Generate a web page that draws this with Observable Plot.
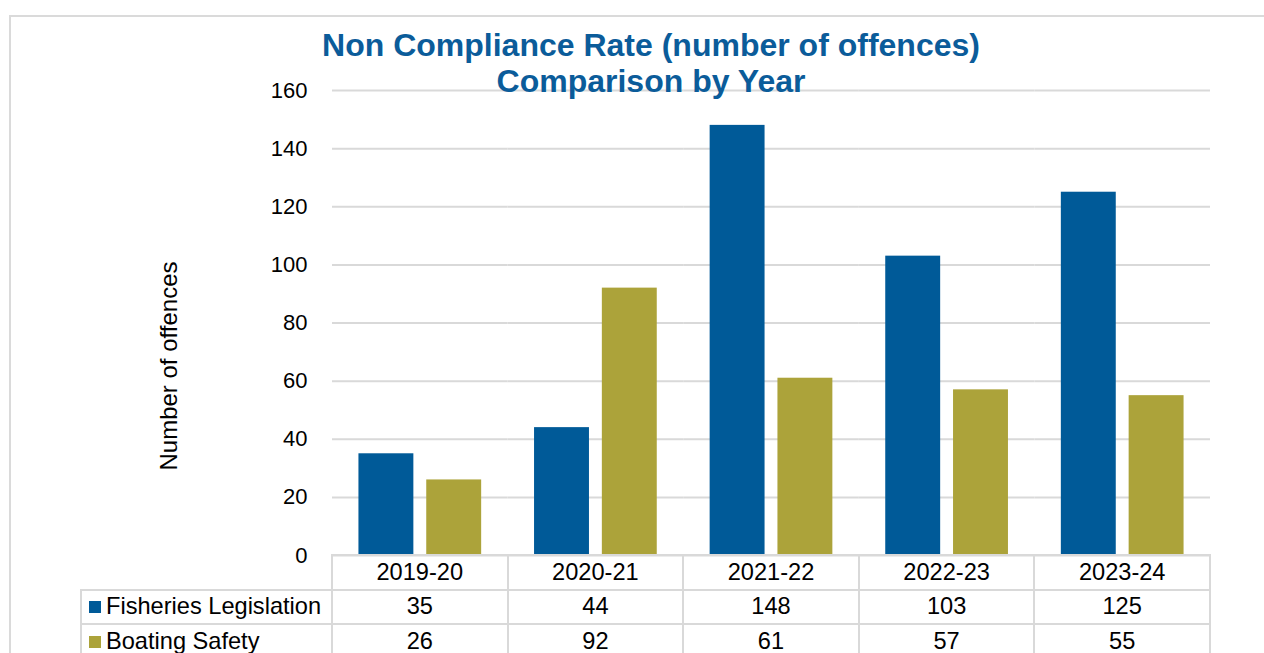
<!DOCTYPE html>
<html>
<head>
<meta charset="utf-8">
<script src="https://cdn.jsdelivr.net/npm/d3@7"></script>
<script src="https://cdn.jsdelivr.net/npm/@observablehq/plot@0.6"></script>
<style>
  html, body { margin: 0; padding: 0; background: #fff; overflow: hidden; }
  #wrap { position: relative; width: 1264px; height: 653px; overflow: hidden; font-family: "Liberation Sans", Arial, sans-serif; }
  #frame { position: absolute; left: 9px; top: 15px; width: 1400px; height: 800px; border: 2px solid #dadada; box-sizing: border-box; }
  #title { position: absolute; left: 151px; top: 27px; width: 1000px; text-align: center; font-weight: bold; font-size: 32px; line-height: 36px; color: #0b5c9a; z-index: 2; }
  #ylabel { position: absolute; left: 169px; top: 366px; transform: translate(-50%, -50%) rotate(-90deg); white-space: nowrap; font-size: 24px; line-height: 1; color: #000; }
  #chart { position: absolute; left: 0; top: 0; }
  .hl { position: absolute; height: 2px; background: #d9d9d9; }
  .vl { position: absolute; width: 2px; background: #d9d9d9; }
  .cell { position: absolute; display: flex; align-items: center; justify-content: center; font-size: 23.6px; color: #000; white-space: nowrap; }
  .cell.lab { justify-content: flex-start; }
  .sw { display: inline-block; width: 12px; height: 12px; margin-left: 8px; margin-right: 5px; }
</style>
</head>
<body>
<div id="wrap">
  <div id="frame"></div>
  <div id="chart"></div>
  <div id="title">Non Compliance Rate (number of offences)<br>Comparison by Year</div>
  <div id="ylabel">Number of offences</div>
</div>
<script>
const years = ["2019-20", "2020-21", "2021-22", "2022-23", "2023-24"];
const seriesNames = ["Fisheries Legislation", "Boating Safety"];
const fisheries = [35, 44, 148, 103, 125];
const boating = [26, 92, 61, 57, 55];
const seriesColors = ["#005a98", "#aca33a"];
const yTicks = [0, 20, 40, 60, 80, 100, 120, 140, 160];

const seriesValues = [fisheries, boating];
const data = years.flatMap((yr, i) =>
  seriesNames.map((s, j) => ({year: yr, series: s, value: seriesValues[j][i]}))
);

const plot = Plot.plot({
  width: 1264,
  height: 560,
  marginTop: 90,
  marginBottom: 5,
  marginLeft: 332,
  marginRight: 54,
  style: {fontFamily: "'Liberation Sans', Arial, sans-serif", background: "transparent", overflow: "visible"},
  fx: {domain: years, padding: 0, round: false, axis: null},
  x: {domain: seriesNames, axis: null, round: false, paddingInner: 0.19, paddingOuter: 0.39},
  y: {domain: [0, 160]},
  color: {domain: seriesNames, range: seriesColors},
  marks: [
    Plot.gridY(yTicks, {stroke: "#d9d9d9", strokeOpacity: 1, strokeWidth: 2}),
    Plot.axisY(yTicks, {tickSize: 0, tickPadding: 25, fontSize: 22, fill: "#000", label: null}),
    Plot.barY(data, {fx: "year", x: "series", y: "value", fill: "series",
      style: "filter: drop-shadow(1px 1px 1.5px rgba(0,0,0,0.3))"})
  ]
});
document.getElementById("chart").appendChild(plot);

// data table below the plot, aligned to the fx band scale
const wrap = document.getElementById("wrap");
const fx = plot.scale("fx");
const bw = fx.bandwidth;
const tableLeft = 81;
const plotLeft = fx.apply(years[0]);
const plotRight = fx.apply(years[years.length - 1]) + bw;
const rowTops = [555, 589.5, 624.2];
const rowH = 34.7;

function el(cls, css) {
  const d = document.createElement("div");
  d.className = cls;
  Object.assign(d.style, css);
  wrap.appendChild(d);
  return d;
}
// horizontal lines
el("hl", {left: (plotLeft - 1) + "px", top: (rowTops[0] - 1) + "px", width: (plotRight - plotLeft + 2) + "px"});
rowTops.slice(1).forEach(t => el("hl", {left: (tableLeft - 1) + "px", top: (t - 1) + "px", width: (plotRight - tableLeft + 2) + "px"}));
// vertical lines
el("vl", {left: (tableLeft - 1) + "px", top: (rowTops[1] - 1) + "px", height: "200px"});
[plotLeft, ...years.map(y => fx.apply(y) + bw)].forEach(x =>
  el("vl", {left: (x - 1) + "px", top: (rowTops[0] - 1) + "px", height: "200px"}));
// header cells
years.forEach(yr => {
  el("cell", {left: fx.apply(yr) + "px", top: rowTops[0] + "px", width: bw + "px", height: rowH + "px"}).textContent = yr;
});
// series rows
seriesNames.forEach((s, j) => {
  const lc = el("cell lab", {left: tableLeft + "px", top: rowTops[j + 1] + "px", width: (plotLeft - tableLeft) + "px", height: rowH + "px"});
  const sw = document.createElement("span");
  sw.className = "sw";
  sw.style.background = seriesColors[j];
  lc.appendChild(sw);
  lc.appendChild(document.createTextNode(s));
  seriesValues[j].forEach((v, i) => {
    el("cell", {left: fx.apply(years[i]) + "px", top: rowTops[j + 1] + "px", width: bw + "px", height: rowH + "px"}).textContent = v;
  });
});
</script>
</body>
</html>
